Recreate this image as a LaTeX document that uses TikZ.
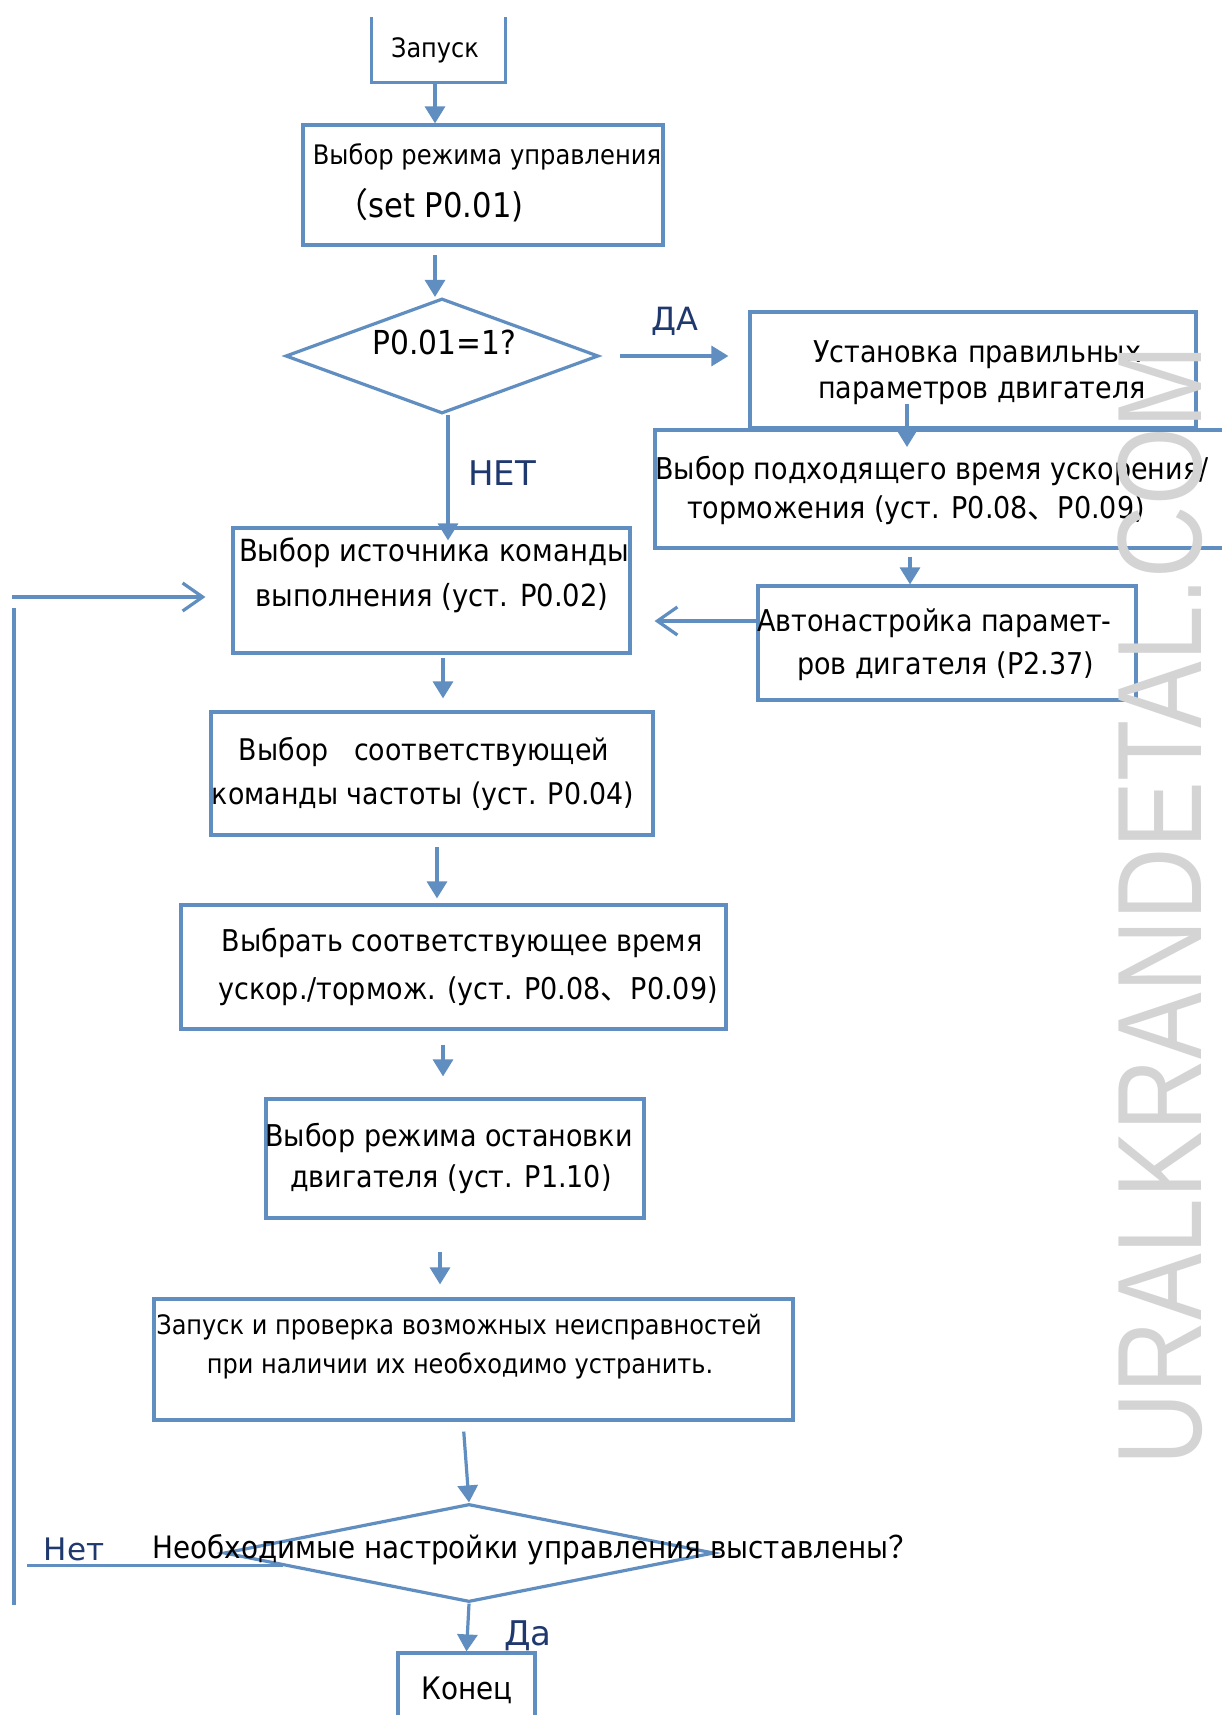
\documentclass[tikz,border=0pt]{standalone}
\usepackage{fontspec}
\setmainfont{DejaVu Sans}[FakeStretch=0.9]
\newfontfamily\lblfont{DejaVu Sans}
\newfontfamily\cjk{Noto Sans CJK SC}
\newfontfamily\wmfont{Liberation Sans}
\usetikzlibrary{arrows.meta,shapes.geometric,calc}
\definecolor{ln}{RGB}{96,142,192}
\definecolor{lab}{RGB}{31,56,110}
\definecolor{wm}{RGB}{212,212,212}
\newcommand{\fs}[1]{\fontsize{#1}{#1}\selectfont}
\begin{document}
\begin{tikzpicture}[x=1pt,y=-1pt,
  box/.style={draw=ln, line width=3.2pt, rectangle, inner sep=0pt},
  dia/.style={draw=ln, line width=3.2pt, diamond, inner sep=0pt},
  txt/.style={inner sep=0pt, text=black},
  lbl/.style={inner sep=0pt, text=lab, font=\lblfont},
  arr/.style={draw=ln, line width=3.2pt, -{Triangle[length=17pt,width=20pt]}},
  oarr/.style={draw=ln, line width=3.2pt, -{Straight Barb[length=20pt,width=28pt]}},
  plain/.style={draw=ln, line width=3.2pt}]
\useasboundingbox[fill=white] (0,0) rectangle (1221,1715);

% boxes
\node[inner sep=0pt, minimum width=133pt, minimum height=65pt] (start) at (438.5,49.5) {};
\draw[plain] (start.north west) -- (start.south west) -- (start.south east) -- (start.north east);
\node[box, minimum width=360pt, minimum height=120pt] (mode) at (483,185) {};
\node[dia, minimum width=313pt, minimum height=115pt] (d1) at (442,356) {};
\node[box, minimum width=446pt, minimum height=116pt] (ust) at (973,370) {};
\node[box, minimum width=590pt, minimum height=118pt] (sel) at (950,489) {};
\node[box, minimum width=378pt, minimum height=114pt] (auto) at (947,643) {};
\node[box, minimum width=397pt, minimum height=125pt] (src) at (431.5,590.5) {};
\node[box, minimum width=442pt, minimum height=123pt] (freq) at (432,773.5) {};
\node[box, minimum width=545pt, minimum height=124pt] (acc) at (453.5,967) {};
\node[box, minimum width=378pt, minimum height=119pt] (stop) at (455,1158.5) {};
\node[box, minimum width=639pt, minimum height=121pt] (run) at (473.5,1359.5) {};
\node[dia, minimum width=490pt, minimum height=98pt] (d2) at (469,1553) {};
\node[box, minimum width=137pt, minimum height=80pt] (end) at (466.5,1693) {};

% texts
\node[txt] (t0) at (435,50) {\fs{26.7}Запуск};
\node[txt] (t1a) at (487,157) {\fs{26.9}Выбор режима управления};
\node[txt] (t1b) at (429,205) {\fs{34}{\cjk （}set P0.01)};
\node[txt] (t2) at (444,342) {\fs{33}P0.01=1?};
\node[txt] (t3a) at (977,355) {\fs{30}Установка правильных};
\node[txt] (t3b) at (982,393) {\fs{30}параметров двигателя};
\node[txt, anchor=west] (t4a) at (655,471) {\fs{30}Выбор подходящего время ускорения/};
\node[txt, anchor=west] (t4b) at (687,510) {\fs{30}торможения (уст. P0.08{\cjk 、}P0.09)};
\node[txt, anchor=west] (t5a) at (757,623) {\fs{30}Автонастройка парамет-};
\node[txt, anchor=west] (t5b) at (797,666) {\fs{30}ров дигателя (P2.37)};
\node[txt] (t6a) at (434,553) {\fs{30.5}Выбор источника команды};
\node[txt] (t6b) at (432,598) {\fs{30.5}выполнения (уст. P0.02)};
\node[txt] (t7a) at (424,752) {\fs{29.8}Выбор\ \ \ соответствующей};
\node[txt] (t7b) at (423,796) {\fs{29.8}команды частоты (уст. P0.04)};
\node[txt] (t8a) at (462,943) {\fs{30}Выбрать соответствующее время};
\node[txt] (t8b) at (468,991) {\fs{30}ускор./тормож. (уст. P0.08{\cjk 、}P0.09)};
\node[txt] (t9a) at (449,1138) {\fs{30}Выбор режима остановки};
\node[txt] (t9b) at (451,1179) {\fs{30}двигателя (уст. P1.10)};
\node[txt] (t10a) at (459,1327) {\fs{26.7}Запуск и проверка возможных неисправностей};
\node[txt] (t10b) at (460,1366) {\fs{26.7}при наличии их необходимо устранить.};
\node[txt] (t11) at (536,1550) {\fs{30.9}Необходимые настройки управления выставлены{\cjk ？}};
\node[txt] (t12) at (467,1690) {\fs{31}Конец};

% labels
\node[lbl] (lda) at (675,321) {\fs{32}ДА};
\node[lbl] (lnet) at (502,473) {\fs{34}НЕТ};
\node[lbl] (lnet2) at (74,1549) {\fs{31}Нет};
\node[lbl] (lda2) at (528,1636) {\fs{34}Да};

% connectors
\draw[arr] (start.south -| t0) -- (t0 |- mode.north);
\coordinate (m1) at (435,255);
\draw[arr] (m1) -- (m1 |- d1.north);
\draw[arr, shorten <=20pt, shorten >=20pt] (d1.east) -- (d1.east -| ust.west);
\coordinate (u1) at (907,404);
\coordinate (u2) at (907,447);
\draw[arr] (u1) -- (u2);
\draw[arr, shorten <=7pt] (sel.south -| 910,0) -- (auto.north -| 910,0);
\draw[oarr, shorten >=23pt] (auto.west |- 0,621) -- (src.east |- 0,621);
\draw[arr] ([xshift=6pt]d1.south) -- ([xshift=6pt,yshift=-14pt]d1.south |- src.north);
\draw[arr, shorten <=3pt, shorten >=12pt] (src.south -| 443,0) -- (freq.north -| 443,0);
\draw[arr, shorten <=10pt, shorten >=5pt] (freq.south -| 437,0) -- (acc.north -| 437,0);
\draw[arr, shorten <=14pt, shorten >=21pt] (acc.south -| 443,0) -- (stop.north -| 443,0);
\draw[arr, shorten <=32pt, shorten >=13pt] (stop.south -| 440,0) -- (run.north -| 440,0);
\draw[arr, shorten <=10pt] (run.south -| 463,0) -- (d2.north);
\draw[arr] (d2.south) -- (end.north);
\coordinate (nA) at ($(d2.west)!0.245!(d2.south)$);
\coordinate (lpA) at (27,1565);
\draw[plain] (nA) -- (nA -| lpA);
\coordinate (lpB) at (14,1605);
\coordinate (lpC) at (14,608);
\draw[plain] (lpB) -- (lpC);
\coordinate (lpD) at (12,597);
\draw[oarr, shorten >=26pt] (lpD) -- (src.west |- lpD);

% watermark
\node[text=wm, rotate=90, inner sep=0pt] (wmk) at (1160,905) {\wmfont\fs{100}\scalebox{1}[1.2]{URALKRANDETAL.COM}};
\end{tikzpicture}
\end{document}
